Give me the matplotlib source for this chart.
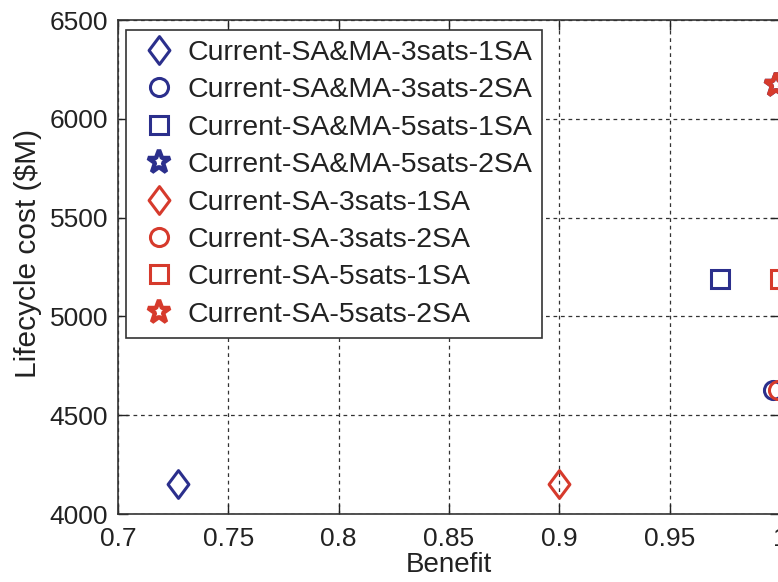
import matplotlib
matplotlib.use("Agg")
from matplotlib import pyplot as plt
from matplotlib.path import Path

plt.rcParams["font.family"] = ["Liberation Sans", "DejaVu Sans"]

# benefit / lifecycle cost per architecture
labels = [
    "Current-SA&MA-3sats-1SA",
    "Current-SA&MA-3sats-2SA",
    "Current-SA&MA-5sats-1SA",
    "Current-SA&MA-5sats-2SA",
    "Current-SA-3sats-1SA",
    "Current-SA-3sats-2SA",
    "Current-SA-5sats-1SA",
    "Current-SA-5sats-2SA",
]
benefit = [0.727, 0.997, 0.973, 0.998, 0.900, 0.999, 1.0, 0.998]
cost = [4150, 4630, 5190, 6170, 4150, 4630, 5190, 6170]

blue = "#2b2f8c"
red = "#d63a2c"
colors = [blue] * 4 + [red] * 4

# MATLAB-style diamond (a bit wider than mpl's thin diamond)
diamond = Path([(0, 1), (0.75, 0), (0, -1), (-0.75, 0), (0, 1)],
               [Path.MOVETO, Path.LINETO, Path.LINETO, Path.LINETO, Path.CLOSEPOLY])
markers = [diamond, "o", "s", "*"] * 2
sizes = [20, 13, 13, 17] * 2
edge_w = [2.2, 2.2, 2.2, 3.2] * 2

fig = plt.figure(figsize=(7.78, 5.82), dpi=100)
ax = fig.add_axes([118 / 778, 68 / 582, 662 / 778, 494 / 582])

for b, c, lab, col, m, s, w in zip(benefit, cost, labels, colors, markers, sizes, edge_w):
    ax.plot(b, c, linestyle="none", marker=m, markersize=s,
            markerfacecolor="none", markeredgecolor=col, markeredgewidth=w,
            label=lab, clip_on=True)

ax.set_xlim(0.7, 1.0)
ax.set_ylim(4000, 6500)
ax.set_xticks([0.7, 0.75, 0.8, 0.85, 0.9, 0.95, 1.0])
ax.set_xticklabels(["0.7", "0.75", "0.8", "0.85", "0.9", "0.95", "1"])
ax.set_yticks([4000, 4500, 5000, 5500, 6000, 6500])

ax.grid(True, color="#333333", linestyle=(0, (3, 3)), linewidth=0.9)
ax.tick_params(direction="in", length=7, width=1, top=True, right=True,
               labelsize=19, colors="#222222")
ax.tick_params(axis="x", pad=9)
ax.tick_params(axis="y", pad=7)
for sp in ax.spines.values():
    sp.set_color("#333333")
    sp.set_linewidth(1.2)

ax.set_xlabel("Benefit", fontsize=20, color="#222222", labelpad=1)
ax.set_ylabel("Lifecycle cost ($M)", fontsize=21.5, color="#222222")
ax.yaxis.set_label_coords(-0.115, 0.528)

leg = ax.legend(loc="upper left", bbox_to_anchor=(8 / 662, 1 - 10 / 494),
                borderaxespad=0, fontsize=20.5, numpoints=1, fancybox=False,
                edgecolor="#333333", framealpha=1, borderpad=0.35,
                handlelength=1.6, handletextpad=0.2, labelspacing=0.4)
leg.get_frame().set_linewidth(1.2)
for t in leg.get_texts():
    t.set_color("#222222")

fig.savefig("out.png", dpi=100)
